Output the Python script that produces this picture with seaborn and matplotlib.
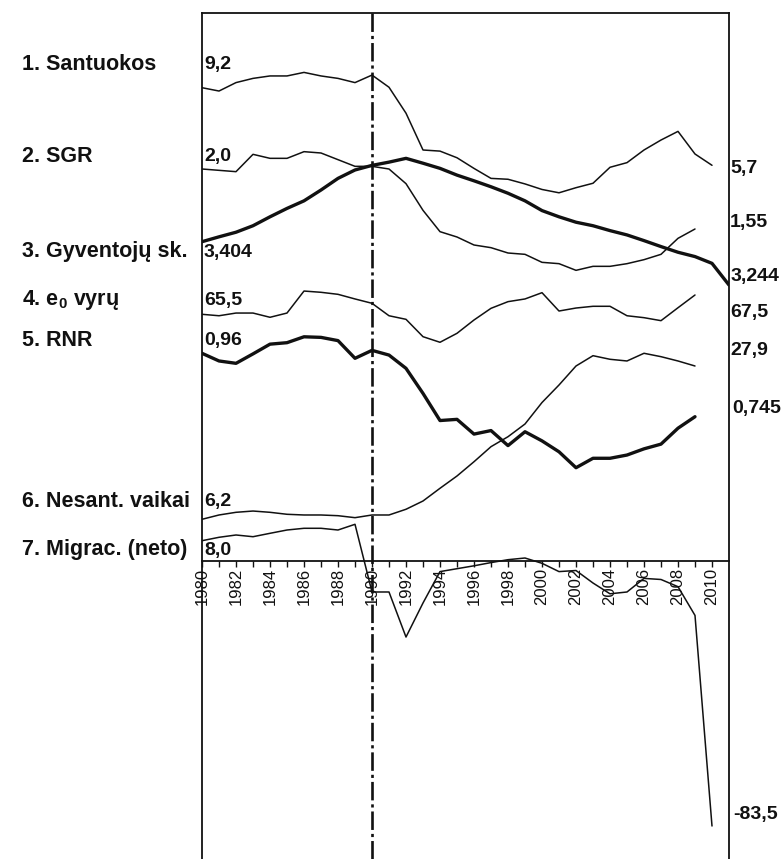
import matplotlib
matplotlib.use("Agg")
import matplotlib.pyplot as plt
import numpy as np
import pandas as pd
import seaborn as sns

# ---------------- data ----------------
years = list(range(1980, 2011))          # 1980..2010
years_09 = list(range(1980, 2010))       # 1980..2009
years_pop = list(range(1980, 2012))      # 1980..2011

santuokos = [9.2, 9.05, 9.43, 9.62, 9.73, 9.73, 9.89, 9.73, 9.62, 9.43,
             9.77, 9.22, 8.05, 6.39, 6.34, 6.04, 5.56, 5.11, 5.07, 4.86,
             4.61, 4.46, 4.69, 4.89, 5.61, 5.82, 6.39, 6.84, 7.23, 6.21, 5.7]
sgr = [2.00, 1.99, 1.98, 2.11, 2.08, 2.08, 2.13, 2.12, 2.07, 2.02,
       2.02, 2.00, 1.89, 1.69, 1.53, 1.49, 1.43, 1.41, 1.37, 1.36,
       1.30, 1.29, 1.24, 1.27, 1.27, 1.29, 1.32, 1.36, 1.48, 1.55]
gyventojai = [3.404, 3.422, 3.439, 3.463, 3.496, 3.527, 3.555, 3.595, 3.638, 3.669,
              3.686, 3.698, 3.712, 3.694, 3.675, 3.650, 3.629, 3.607, 3.583, 3.555,
              3.519, 3.496, 3.476, 3.463, 3.445, 3.429, 3.408, 3.386, 3.365, 3.349,
              3.324, 3.244]
e0_vyru = [65.5, 65.35, 65.63, 65.63, 65.19, 65.63, 67.91, 67.78, 67.57, 67.09,
           66.64, 65.35, 64.98, 63.18, 62.60, 63.53, 64.91, 66.12, 66.81, 67.09,
           67.74, 65.84, 66.15, 66.33, 66.33, 65.35, 65.15, 64.84, 66.18, 67.5]
rnr = [0.960, 0.934, 0.926, 0.958, 0.991, 0.996, 1.016, 1.014, 1.003, 0.943,
       0.970, 0.954, 0.909, 0.824, 0.732, 0.736, 0.686, 0.698, 0.647, 0.694,
       0.663, 0.626, 0.572, 0.604, 0.604, 0.615, 0.636, 0.652, 0.706, 0.745]
nesant_vaikai = [6.2, 6.81, 7.19, 7.37, 7.19, 6.91, 6.81, 6.81, 6.71, 6.43,
                 6.81, 6.81, 7.62, 8.79, 10.59, 12.33, 14.35, 16.48, 17.89, 19.69,
                 22.73, 25.21, 27.90, 29.36, 28.85, 28.61, 29.70, 29.22, 28.61, 27.9]
migracija = [8.0, 9.09, 9.83, 9.28, 10.37, 11.43, 11.98, 11.98, 11.43, 13.26,
             -8.45, -8.45, -22.9, -11.98, -1.91, -0.98, -0.05, 0.98, 1.91, 2.45,
             0.75, -1.91, -1.56, -5.57, -9.03, -8.45, -4.09, -4.44, -6.75, -15.96, -83.5]

series_names = ["1. Santuokos", "2. SGR", "3. Gyventojų sk.", "4. e$_0$ vyrų",
                "5. RNR", "6. Nesant. vaikai", "7. Migrac. (neto)"]
start_labels = ["9,2", "2,0", "3,404", "65,5", "0,96", "6,2", "8,0"]
end_labels = ["5,7", "1,55", "3,244", "67,5", "27,9", "0,745", "-83,5"]
break_year = 1990

# ---------------- styling / layout ----------------
W, H = 783, 859
sns.set_theme(style="white")
plt.rcParams["font.family"] = ["Liberation Sans", "DejaVu Sans"]
plt.rcParams["mathtext.fontset"] = "custom"
plt.rcParams["mathtext.rm"] = "Liberation Sans:bold"
plt.rcParams["mathtext.it"] = "Liberation Sans:bold"
plt.rcParams["mathtext.bf"] = "Liberation Sans:bold"

fig = plt.figure(figsize=(W / 100, H / 100), dpi=100)
fig.patch.set_facecolor("white")
x_left, x_right, y_top = 202, 729, 13
ax = fig.add_axes([x_left / W, 0, (x_right - x_left) / W, (H - y_top) / H])
ax.set_facecolor("white")
ax.set_xlim(1980, 2011)
ax.set_ylim(H, y_top)   # vertical layout units = image rows

# each series gets its own band: first value -> row a, last value -> row b
bands = [(87.7, 165.3), (169, 229), (241.7, 285), (314.3, 295),
         (353.3, 416.7), (519.3, 366), (540.7, 826)]
series = [(years, santuokos, 1.1), (years_09, sgr, 1.1), (years_pop, gyventojai, 2.4),
          (years_09, e0_vyru, 1.1), (years_09, rnr, 2.4), (years_09, nesant_vaikai, 1.1),
          (years, migracija, 1.1)]

for (yrs, vals, lw), (a, b) in zip(series, bands):
    v = np.asarray(vals, dtype=float)
    pos = a + (v - v[0]) / (v[-1] - v[0]) * (b - a)
    df = pd.DataFrame({"year": yrs, "pos": pos})
    sns.lineplot(data=df, x="year", y="pos", ax=ax, color="#111111",
                 linewidth=lw, estimator=None, sort=False, legend=False)

ax.axvline(break_year, color="#111111", linewidth=1.9,
           dashes=(7.0, 1.5, 1.2, 1.5), zorder=5)

# frame and axis
for s in ["left", "top", "right"]:
    ax.spines[s].set_visible(True)
    ax.spines[s].set_color("#111111")
    ax.spines[s].set_linewidth(1.3)
ax.spines["bottom"].set_position(("data", 561))
ax.spines["bottom"].set_color("#111111")
ax.spines["bottom"].set_linewidth(1.3)

ax.set_xticks(list(range(1980, 2011, 2)))
ax.set_xticks(list(range(1981, 2011, 2)), minor=True)
ax.set_xticklabels([str(y) for y in range(1980, 2011, 2)])
ax.tick_params(axis="x", which="both", direction="out", length=4, width=1.0,
               color="#111111", bottom=True)
ax.tick_params(axis="x", which="major", labelrotation=90, labelsize=12, pad=1,
               labelcolor="#111111")
ax.set_yticks([])
ax.set_xlabel("")
ax.set_ylabel("")

# left names and start values
name_rows = [65, 157, 252, 300, 340, 502, 550]
for name, lab, r in zip(series_names, start_labels, name_rows):
    fig.text(22 / W, 1 - r / H, name, ha="left", va="center", fontsize=15.5,
             fontweight="bold", color="#111111")
    fig.text(204 / W, 1 - r / H, lab, ha="left", va="center", fontsize=14,
             fontweight="bold", color="#111111")

# right end values
end_rows = [168, 222, 277, 312, 351, 409, 815]
end_x = [730, 730, 731, 730, 730, 732, 733]
for lab, r, xx in zip(end_labels, end_rows, end_x):
    fig.text(xx / W, 1 - r / H, lab, ha="left", va="center", fontsize=14,
             fontweight="bold", color="#111111")

fig.savefig("out.png", dpi=100, facecolor="white")
